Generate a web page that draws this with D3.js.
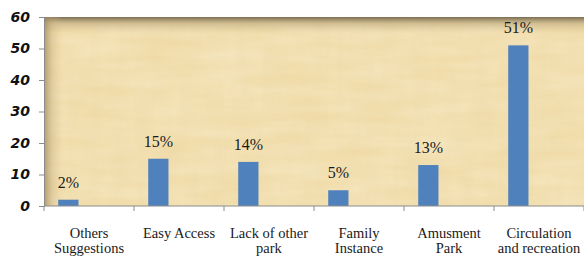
<!DOCTYPE html>
<html>
<head>
<meta charset="utf-8">
<script src="https://cdn.jsdelivr.net/npm/d3@7"></script>
<style>
  body { margin: 0; background: #fff; }
  svg { display: block; }
</style>
</head>
<body>
<div id="chart"></div>
<script>
const categories = [
  ["Others", "Suggestions"],
  ["Easy Access"],
  ["Lack of other", "park"],
  ["Family", "Instance"],
  ["Amusment", "Park"],
  ["Circulation", "and recreation"]
];
const values = [2, 15, 14, 5, 13, 51];
const valueLabels = ["2%", "15%", "14%", "5%", "13%", "51%"];
const yTicks = [0, 10, 20, 30, 40, 50, 60];

const width = 584, height = 259;
const margin = {top: 17, right: 0, bottom: 53, left: 44};

const svg = d3.select('#chart').append('svg')
  .attr('width', width)
  .attr('height', height);

const defs = svg.append('defs');

// parchment texture
const filt = defs.append('filter').attr('id', 'paper')
  .attr('x', 0).attr('y', 0).attr('width', '100%').attr('height', '100%');
filt.append('feTurbulence')
  .attr('type', 'fractalNoise')
  .attr('baseFrequency', '0.08 0.015')
  .attr('numOctaves', 3)
  .attr('seed', 4)
  .attr('result', 'noise');
filt.append('feColorMatrix')
  .attr('in', 'noise')
  .attr('type', 'matrix')
  .attr('values', '0 0 0 0 0.78  0 0 0 0 0.64  0 0 0 0 0.38  0 0 0 0.3 -0.06')
  .attr('result', 'tint');
filt.append('feComposite').attr('in', 'tint').attr('in2', 'SourceGraphic').attr('operator', 'in');

const filt2 = defs.append('filter').attr('id', 'paper2')
  .attr('x', 0).attr('y', 0).attr('width', '100%').attr('height', '100%');
filt2.append('feTurbulence')
  .attr('type', 'fractalNoise')
  .attr('baseFrequency', '0.015 0.08')
  .attr('numOctaves', 3)
  .attr('seed', 9)
  .attr('result', 'noise');
filt2.append('feColorMatrix')
  .attr('in', 'noise')
  .attr('type', 'matrix')
  .attr('values', '0 0 0 0 1  0 0 0 0 0.96  0 0 0 0 0.82  0 0 0 0.45 -0.08')
  .attr('result', 'tint');
filt2.append('feComposite').attr('in', 'tint').attr('in2', 'SourceGraphic').attr('operator', 'in');

const gTop = defs.append('linearGradient').attr('id', 'shadeTop')
  .attr('x1', 0).attr('y1', 0).attr('x2', 0).attr('y2', 1);
gTop.append('stop').attr('offset', 0).attr('stop-color', '#6d6048').attr('stop-opacity', 0.9);
gTop.append('stop').attr('offset', 0.035).attr('stop-color', '#a08c62').attr('stop-opacity', 0.4);
gTop.append('stop').attr('offset', 0.09).attr('stop-color', '#c8b080').attr('stop-opacity', 0);

const gLeft = defs.append('linearGradient').attr('id', 'shadeLeft')
  .attr('x1', 0).attr('y1', 0).attr('x2', 1).attr('y2', 0);
gLeft.append('stop').attr('offset', 0).attr('stop-color', '#9a845a').attr('stop-opacity', 0.75);
gLeft.append('stop').attr('offset', 0.015).attr('stop-color', '#bca574').attr('stop-opacity', 0.35);
gLeft.append('stop').attr('offset', 0.035).attr('stop-color', '#d8c08e').attr('stop-opacity', 0);

const innerW = width - margin.left - margin.right;
const innerH = height - margin.top - margin.bottom;

const x = d3.scaleBand()
  .domain(d3.range(categories.length))
  .range([margin.left, width - margin.right])
  .padding(0);

const y = d3.scaleLinear()
  .domain([0, 60])
  .range([height - margin.bottom, margin.top]);

// plot background
svg.append('rect')
  .attr('x', margin.left).attr('y', margin.top)
  .attr('width', innerW).attr('height', innerH)
  .attr('fill', '#f1dca8');
svg.append('rect')
  .attr('x', margin.left).attr('y', margin.top)
  .attr('width', innerW).attr('height', innerH)
  .attr('fill', '#fff')
  .attr('filter', 'url(#paper2)');
svg.append('rect')
  .attr('x', margin.left).attr('y', margin.top)
  .attr('width', innerW).attr('height', innerH)
  .attr('fill', '#fff')
  .attr('filter', 'url(#paper)');
svg.append('rect')
  .attr('x', margin.left).attr('y', margin.top)
  .attr('width', innerW).attr('height', innerH)
  .attr('fill', 'url(#shadeTop)');
svg.append('rect')
  .attr('x', margin.left).attr('y', margin.top)
  .attr('width', innerW).attr('height', innerH)
  .attr('fill', 'url(#shadeLeft)');

// bars
const barOff = x.bandwidth() * 0.158;
const barW = x.bandwidth() * 0.225;

svg.selectAll('rect.bar')
  .data(values)
  .join('rect')
  .attr('class', 'bar')
  .attr('x', (d, i) => x(i) + barOff)
  .attr('y', d => y(d))
  .attr('width', barW)
  .attr('height', d => y(0) - y(d))
  .attr('fill', '#4f81bd');

svg.selectAll('text.val')
  .data(values)
  .join('text')
  .attr('class', 'val')
  .attr('x', (d, i) => x(i) + barOff + barW / 2)
  .attr('y', d => y(d) - 12)
  .attr('text-anchor', 'middle')
  .style('font-family', '"Liberation Serif", "DejaVu Serif", serif')
  .style('font-size', '16px')
  .style('fill', '#1a1a1a')
  .text((d, i) => valueLabels[i]);

// y axis
const yAxis = svg.append('g')
  .attr('transform', `translate(${margin.left},0)`)
  .call(d3.axisLeft(y).tickValues(yTicks).tickSize(5).tickPadding(9));
yAxis.select('.domain').attr('stroke', '#8c8c8c');
yAxis.selectAll('.tick line').attr('stroke', '#8c8c8c');
yAxis.selectAll('.tick text')
  .style('font-family', '"DejaVu Sans", Verdana, sans-serif')
  .style('font-weight', 'bold')
  .style('font-style', 'italic')
  .style('font-size', '14px')
  .attr('fill', '#111');

// x axis
const xAxisY = y(0);
svg.append('line')
  .attr('x1', margin.left).attr('x2', width - margin.right)
  .attr('y1', xAxisY).attr('y2', xAxisY)
  .attr('stroke', '#8c8c8c');
svg.selectAll('line.xtick')
  .data(d3.range(categories.length + 1))
  .join('line')
  .attr('class', 'xtick')
  .attr('x1', i => i < categories.length ? x(i) : x(i - 1) + x.bandwidth())
  .attr('x2', i => i < categories.length ? x(i) : x(i - 1) + x.bandwidth())
  .attr('y1', xAxisY).attr('y2', xAxisY + 5)
  .attr('stroke', '#8c8c8c');

const xl = svg.selectAll('text.cat')
  .data(categories)
  .join('text')
  .attr('class', 'cat')
  .attr('text-anchor', 'middle')
  .style('font-family', '"Liberation Serif", "DejaVu Serif", serif')
  .style('font-size', '14.5px')
  .style('fill', '#1a1a1a');
xl.each(function (lines, i) {
  d3.select(this).selectAll('tspan')
    .data(lines)
    .join('tspan')
    .attr('x', x(i) + x.bandwidth() / 2)
    .attr('y', (l, j) => xAxisY + 32 + j * 15)
    .text(l => l);
});
</script>
</body>
</html>
